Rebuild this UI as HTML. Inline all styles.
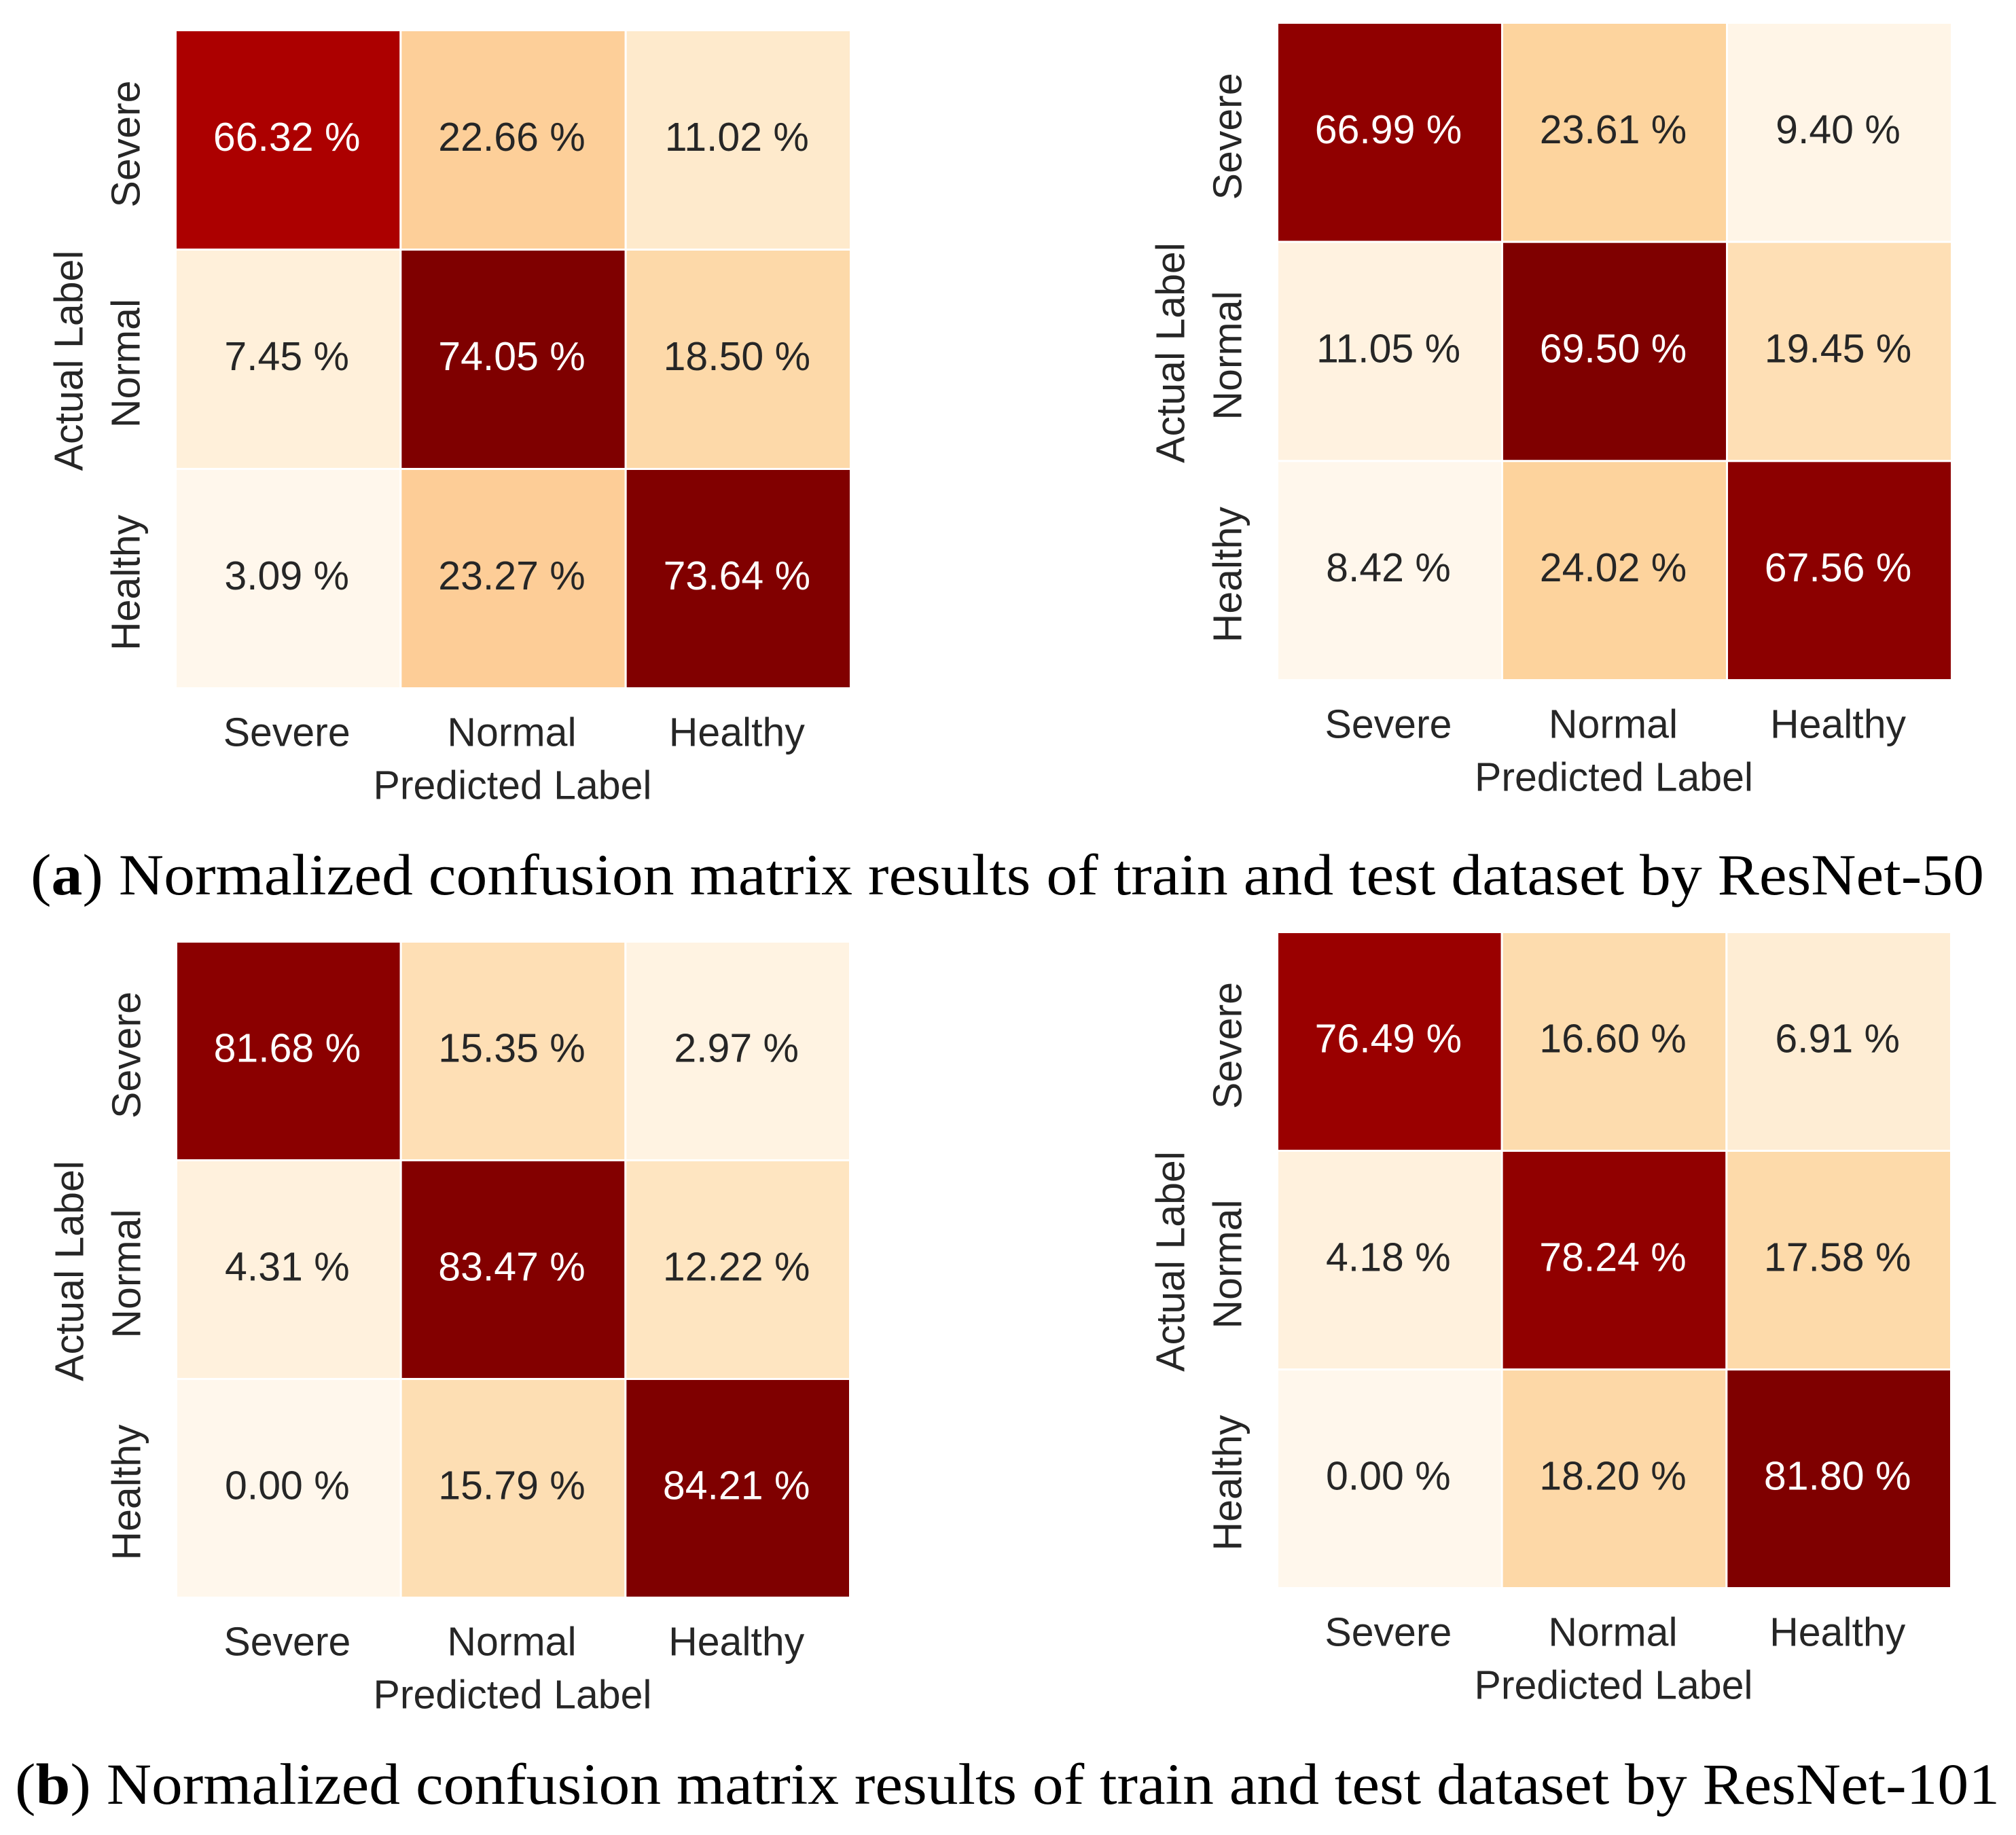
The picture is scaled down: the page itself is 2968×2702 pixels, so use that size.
<!DOCTYPE html>
<html lang="en">
<head>
<meta charset="utf-8">
<title>Normalized confusion matrices</title>
<style>
  html, body { margin: 0; padding: 0; background: #ffffff; }
  svg { display: block; }
  .sans { font-family: "Liberation Sans", Arial, sans-serif; font-size: 59px; fill: #262626; }
  .caption { font-family: "Liberation Serif", "Times New Roman", serif; font-size: 86px; fill: #000000; }
</style>
</head>
<body>
<svg id="figure" xmlns="http://www.w3.org/2000/svg" width="2968" height="2702" viewBox="0 0 2968 2702">
  <rect x="0" y="0" width="2968" height="2702" fill="#ffffff"/>
  <text class="caption" x="45" y="1317" textLength="2876" lengthAdjust="spacingAndGlyphs">(<tspan font-weight="bold">a</tspan>) Normalized confusion matrix results of train and test dataset by ResNet-50</text>
  <text class="caption" x="22" y="2656" textLength="2922" lengthAdjust="spacingAndGlyphs">(<tspan font-weight="bold">b</tspan>) Normalized confusion matrix results of train and test dataset by ResNet-101</text>
</svg>
<script>
// Chart data
const categories = ['Severe', 'Normal', 'Healthy'];
const resnet50Train = [
  [66.32, 22.66, 11.02],
  [7.45, 74.05, 18.50],
  [3.09, 23.27, 73.64]
];
const resnet50Test = [
  [66.99, 23.61, 9.40],
  [11.05, 69.50, 19.45],
  [8.42, 24.02, 67.56]
];
const resnet101Train = [
  [81.68, 15.35, 2.97],
  [4.31, 83.47, 12.22],
  [0.00, 15.79, 84.21]
];
const resnet101Test = [
  [76.49, 16.60, 6.91],
  [4.18, 78.24, 17.58],
  [0.00, 18.20, 81.80]
];
const xAxisTitle = 'Predicted Label';
const yAxisTitle = 'Actual Label';

// OrRd colour ramp used by the value-to-colour scale
const colorStops = [
  [255, 247, 236], [254, 232, 200], [253, 212, 158], [253, 187, 132],
  [252, 141, 89], [239, 101, 72], [215, 48, 31], [179, 0, 0], [127, 0, 0]
];

function colorScale(value, vmin, vmax) {
  const t = Math.max(0, Math.min(1, (value - vmin) / (vmax - vmin))) * (colorStops.length - 1);
  const i = Math.min(Math.floor(t), colorStops.length - 2);
  const f = t - i;
  const a = colorStops[i];
  const b = colorStops[i + 1];
  const rgb = [0, 1, 2].map(function (k) { return Math.round(a[k] + (b[k] - a[k]) * f); });
  return 'rgb(' + rgb.join(',') + ')';
}

const svgNS = 'http://www.w3.org/2000/svg';
const figure = document.getElementById('figure');

function drawHeatmap(panelName, matrix, box) {
  const group = document.createElementNS(svgNS, 'g');
  
  
  figure.appendChild(group);

  const n = categories.length;
  const cellW = (box.x1 - box.x0) / n;
  const cellH = (box.y1 - box.y0) / n;
  const xAxis = function (col) { return box.x0 + col * cellW; };
  const yAxis = function (row) { return box.y0 + row * cellH; };
  const vmax = Math.max.apply(null, matrix.map(function (r) { return Math.max.apply(null, r); }));
  const vmin = Math.min.apply(null, matrix.map(function (r) { return Math.min.apply(null, r); }));

  matrix.forEach(function (rowValues, row) {
    rowValues.forEach(function (value, col) {
      const rect = document.createElementNS(svgNS, 'rect');
      
      
      rect.setAttribute('x', xAxis(col));
      rect.setAttribute('y', yAxis(row));
      rect.setAttribute('width', cellW);
      rect.setAttribute('height', cellH);
      rect.setAttribute('fill', colorScale(value, vmin, vmax));
      rect.setAttribute('stroke', '#ffffff');
      rect.setAttribute('stroke-width', '3');
      group.appendChild(rect);

      const label = document.createElementNS(svgNS, 'text');
      
      
      label.setAttribute('class', 'sans');
      label.setAttribute('x', xAxis(col) + cellW / 2 - 2);
      label.setAttribute('y', yAxis(row) + cellH / 2 + 16);
      label.setAttribute('text-anchor', 'middle');
      label.setAttribute('style', 'fill:' + ((value - vmin) / (vmax - vmin) > 0.6 ? '#ffffff' : '#262626'));
      label.textContent = value.toFixed(2) + ' %';
      group.appendChild(label);
    });
  });

  categories.forEach(function (name, i) {
    const xTick = document.createElementNS(svgNS, 'text');
    
    
    xTick.setAttribute('class', 'sans');
    xTick.setAttribute('x', xAxis(i) + cellW / 2 - 2);
    xTick.setAttribute('y', box.y1 + 85);
    xTick.setAttribute('text-anchor', 'middle');
    xTick.textContent = name;
    group.appendChild(xTick);

    const yTick = document.createElementNS(svgNS, 'text');
    const tickX = box.x0 - 53;
    const tickY = yAxis(i) + cellH / 2 + 6;
    
    
    yTick.setAttribute('class', 'sans');
    yTick.setAttribute('x', tickX);
    yTick.setAttribute('y', tickY);
    yTick.setAttribute('text-anchor', 'middle');
    yTick.setAttribute('transform', 'rotate(-90 ' + tickX + ' ' + tickY + ')');
    yTick.textContent = name;
    group.appendChild(yTick);
  });

  const xTitle = document.createElementNS(svgNS, 'text');
  
  
  xTitle.setAttribute('class', 'sans');
  xTitle.setAttribute('x', (box.x0 + box.x1) / 2 - 1);
  xTitle.setAttribute('y', box.y1 + 163);
  xTitle.setAttribute('text-anchor', 'middle');
  xTitle.textContent = xAxisTitle;
  group.appendChild(xTitle);

  const yTitle = document.createElementNS(svgNS, 'text');
  const titleX = box.x0 - 137;
  const titleY = (box.y0 + box.y1) / 2 + 2;
  
  
  yTitle.setAttribute('class', 'sans');
  yTitle.setAttribute('x', titleX);
  yTitle.setAttribute('y', titleY);
  yTitle.setAttribute('text-anchor', 'middle');
  yTitle.setAttribute('transform', 'rotate(-90 ' + titleX + ' ' + titleY + ')');
  yTitle.textContent = yAxisTitle;
  group.appendChild(yTitle);
}

drawHeatmap('resnet50-train-matrix', resnet50Train, { x0: 258.5, x1: 1252.5, y0: 44.5, y1: 1013.5 });
drawHeatmap('resnet50-test-matrix', resnet50Test, { x0: 1880.5, x1: 2873.5, y0: 33.5, y1: 1001.5 });
drawHeatmap('resnet101-train-matrix', resnet101Train, { x0: 259.5, x1: 1251.5, y0: 1386.5, y1: 2352.5 });
drawHeatmap('resnet101-test-matrix', resnet101Test, { x0: 1880.5, x1: 2872.5, y0: 1372.5, y1: 2338.5 });
</script>
</body>
</html>
